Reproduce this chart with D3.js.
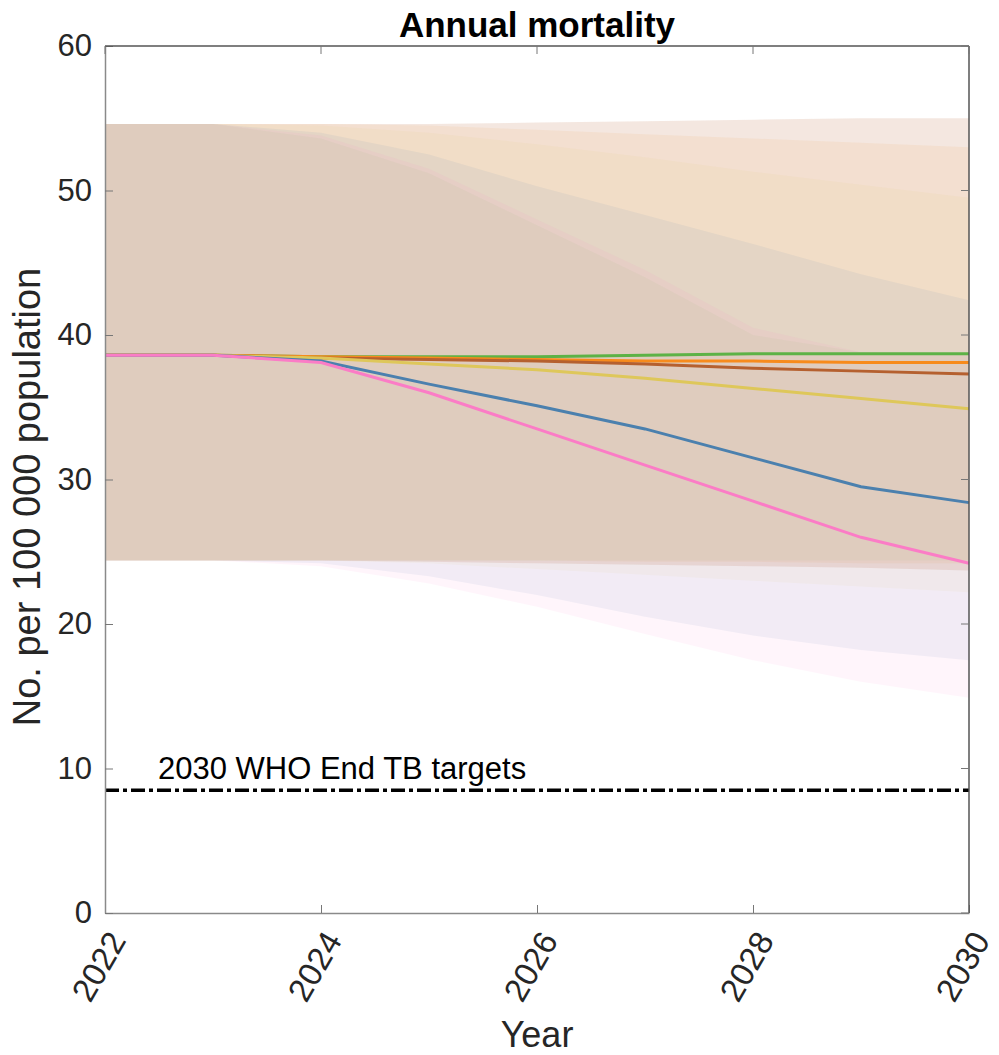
<!DOCTYPE html>
<html>
<head>
<meta charset="utf-8">
<script src="https://cdn.jsdelivr.net/npm/d3@7"></script>
<style>
  body { margin: 0; background: #fff; }
  text { font-family: "Liberation Sans", Arial, sans-serif; fill: #262626; }
</style>
</head>
<body>
<script>
var width = 999,
    height = 1055;

// data
var years = [2022, 2023, 2024, 2025, 2026, 2027, 2028, 2029, 2030];

var greenMid  = [38.6, 38.6, 38.5, 38.5, 38.5, 38.6, 38.7, 38.7, 38.7];
var orangeMid = [38.6, 38.6, 38.5, 38.4, 38.3, 38.2, 38.2, 38.1, 38.1];
var brownMid  = [38.6, 38.6, 38.4, 38.3, 38.2, 38.0, 37.7, 37.5, 37.3];
var yellowMid = [38.6, 38.6, 38.4, 38.0, 37.6, 37.0, 36.3, 35.6, 34.9];
var blueMid   = [38.6, 38.6, 38.2, 36.6, 35.1, 33.5, 31.5, 29.5, 28.4];
var pinkMid   = [38.6, 38.6, 38.1, 36.0, 33.5, 31.0, 28.5, 26.0, 24.2];

var brownHi  = [54.6, 54.6, 54.6, 54.6, 54.7, 54.8, 54.9, 55.0, 55.0];
var orangeHi = [54.6, 54.6, 54.6, 54.5, 54.2, 53.9, 53.6, 53.3, 53.0];
var yellowHi = [54.6, 54.6, 54.5, 54.0, 53.2, 52.3, 51.3, 50.4, 49.5];
var blueHi   = [54.6, 54.6, 54.0, 52.5, 50.3, 48.3, 46.3, 44.2, 42.4];
var pinkHi   = [54.6, 54.6, 53.8, 51.5, 48.0, 44.5, 40.5, 38.8, 38.7];
var greenHi  = [54.6, 54.6, 53.6, 51.2, 47.6, 44.0, 40.0, 38.8, 38.7];

var brownLo  = [24.4, 24.4, 24.4, 24.3, 24.2, 24.1, 24.0, 23.9, 23.7];
var orangeLo = [24.4, 24.4, 24.4, 24.4, 24.4, 24.3, 24.3, 24.2, 24.2];
var yellowLo = [24.4, 24.4, 24.4, 24.2, 23.8, 23.4, 23.0, 22.6, 22.2];
var blueLo   = [24.4, 24.4, 24.2, 23.3, 22.0, 20.5, 19.2, 18.2, 17.5];
var pinkLo   = [24.4, 24.4, 24.0, 22.8, 21.2, 19.3, 17.5, 16.0, 14.9];
var greenLo  = [24.4, 24.4, 24.4, 24.4, 24.4, 24.4, 24.4, 24.4, 24.4];

var xTicks = [2022, 2024, 2026, 2028, 2030];
var yTicks = [0, 10, 20, 30, 40, 50, 60];

var targetValue = 8.5;
var targetLabel = '2030 WHO End TB targets';

var series = [
    { color: '#b5602f', alpha: 0.15, mid: brownMid,  hi: brownHi,  lo: brownLo },
    { color: '#f78b1c', alpha: 0.08, mid: orangeMid, hi: orangeHi, lo: orangeLo },
    { color: '#dec75a', alpha: 0.07, mid: yellowMid, hi: yellowHi, lo: yellowLo },
    { color: '#4b80ae', alpha: 0.08, mid: blueMid,   hi: blueHi,   lo: blueLo },
    { color: '#fb7cc6', alpha: 0.08, mid: pinkMid,   hi: pinkHi,   lo: pinkLo },
    { color: '#5db246', alpha: 0.05, mid: greenMid,  hi: greenHi,  lo: greenLo }
];
// line drawing order (pink on top)
var lineOrder = [5, 1, 0, 2, 3, 4];

var mLeft = 105, mRight = 969, mTop = 46, mBottom = 913;

var x = d3.scaleLinear().domain([2022, 2030]).range([mLeft, mRight]);
var y = d3.scaleLinear().domain([0, 60]).range([mBottom, mTop]);

var svg = d3.select('body')
    .append('svg')
    .attr('width', width)
    .attr('height', height);

// uncertainty bands
var area = d3.area()
    .x(function (d) { return x(d.year); })
    .y0(function (d) { return y(d.lo); })
    .y1(function (d) { return y(d.hi); });

svg.append('g')
    .selectAll('path')
    .data(series)
    .enter()
    .append('path')
    .attr('d', function (s) {
        return area(years.map(function (yr, i) {
            return { year: yr, lo: s.lo[i], hi: s.hi[i] };
        }));
    })
    .attr('fill', function (s) { return s.color; })
    .attr('fill-opacity', function (s) { return s.alpha; });

// central lines
var line = d3.line()
    .x(function (d) { return x(d.year); })
    .y(function (d) { return y(d.v); });

svg.append('g')
    .selectAll('path')
    .data(lineOrder.map(function (k) { return series[k]; }))
    .enter()
    .append('path')
    .attr('d', function (s) {
        return line(years.map(function (yr, i) { return { year: yr, v: s.mid[i] }; }));
    })
    .attr('fill', 'none')
    .attr('stroke', function (s) { return s.color; })
    .attr('stroke-width', 3);

// End TB target line
svg.append('line')
    .attr('x1', x(2022))
    .attr('x2', x(2030))
    .attr('y1', y(targetValue))
    .attr('y2', y(targetValue))
    .attr('stroke', '#000')
    .attr('stroke-width', 3.5)
    .attr('stroke-dasharray', '14,4,4,4');

svg.append('text')
    .attr('x', 158)
    .attr('y', y(targetValue) - 11)
    .attr('font-size', 31)
    .style('fill', '#000')
    .text(targetLabel);

// axes
var xAxis = d3.axisBottom(x).tickValues(xTicks).tickFormat(d3.format('d'))
    .tickSizeInner(-8).tickSizeOuter(0);
var yAxis = d3.axisLeft(y).tickValues(yTicks).tickSizeInner(-8).tickSizeOuter(0);

var gx = svg.append('g').attr('transform', 'translate(0,' + mBottom + ')').call(xAxis);
gx.select('.domain').attr('stroke', '#8a8a8a').attr('stroke-width', 1.5);
gx.selectAll('.tick line').attr('stroke', '#777');
gx.selectAll('.tick text')
    .attr('font-size', 33)
    .attr('text-anchor', 'end')
    .attr('dy', null)
    .attr('transform', 'translate(14,23) rotate(-60)')
    .attr('x', 0)
    .attr('y', 0)
    .attr('dominant-baseline', 'middle');

var gy = svg.append('g').attr('transform', 'translate(' + mLeft + ',0)').call(yAxis);
gy.select('.domain').attr('stroke', '#8a8a8a').attr('stroke-width', 1.5);
gy.selectAll('.tick line').attr('stroke', '#777');
gy.selectAll('.tick text').attr('font-size', 31).attr('x', -13);

// box top / right
svg.append('line').attr('x1', mLeft).attr('x2', mRight).attr('y1', mTop).attr('y2', mTop)
    .attr('stroke', '#555').attr('stroke-width', 1.5);
svg.append('line').attr('x1', mRight).attr('x2', mRight).attr('y1', mTop).attr('y2', mBottom)
    .attr('stroke', '#555').attr('stroke-width', 1.5);
svg.append('g').selectAll('line').data(xTicks).enter().append('line')
    .attr('x1', function (d) { return x(d); }).attr('x2', function (d) { return x(d); })
    .attr('y1', mTop).attr('y2', mTop + 8).attr('stroke', '#777');
svg.append('g').selectAll('line').data(yTicks).enter().append('line')
    .attr('x1', mRight - 8).attr('x2', mRight)
    .attr('y1', function (d) { return y(d); }).attr('y2', function (d) { return y(d); })
    .attr('stroke', '#777');

// titles
svg.append('text')
    .attr('x', (mLeft + mRight) / 2)
    .attr('y', 37)
    .attr('text-anchor', 'middle')
    .attr('font-size', 35)
    .attr('font-weight', 'bold')
    .style('fill', '#000')
    .text('Annual mortality');

svg.append('text')
    .attr('transform', 'translate(40,497) rotate(-90)')
    .attr('text-anchor', 'middle')
    .attr('font-size', 38)
    .text('No. per 100 000 population');

svg.append('text')
    .attr('x', (mLeft + mRight) / 2)
    .attr('y', 1047)
    .attr('text-anchor', 'middle')
    .attr('font-size', 36)
    .text('Year');
</script>
</body>
</html>
